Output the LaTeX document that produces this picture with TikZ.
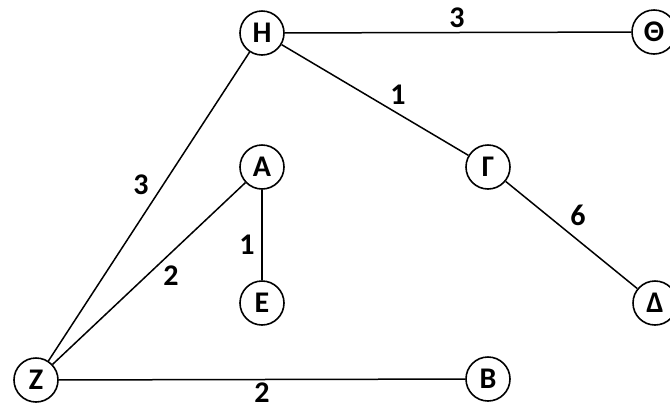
\documentclass[tikz,border=0pt]{standalone}
\usepackage{fontspec}
\setmainfont{Carlito}
\begin{document}
\begin{tikzpicture}[x=1pt,y=-1pt,
  vertex/.style={circle,draw,line width=1.6pt,minimum size=44pt,inner sep=0pt,font=\fontsize{30}{30}\selectfont\bfseries},
  edge/.style={line width=1.5pt},
  wlabel/.style={font=\fontsize{30}{30}\selectfont\bfseries,inner sep=0pt}]
\useasboundingbox (0,0) rectangle (670,408);
\clip (0,0) rectangle (670,408);
\node[vertex] (H) at (262,33) {Η};
\node[vertex] (Th) at (654,32) {Θ};
\node[vertex] (A) at (262,167) {Α};
\node[vertex] (G) at (488,167) {Γ};
\node[vertex] (E) at (262,303) {Ε};
\node[vertex] (D) at (655,303) {Δ};
\node[vertex] (Z) at (36,380) {Ζ};
\node[vertex] (B) at (488,379) {Β};
\draw[edge] (H) -- (Th);
\draw[edge] (H) -- (G);
\draw[edge] (H) -- (Z);
\draw[edge] (A) -- (Z);
\draw[edge] (A) -- (E);
\draw[edge] (G) -- (D);
\draw[edge] (Z) -- (B);
\node[wlabel] (l1) at (457,18) {3};
\node[wlabel] (l2) at (398,95) {1};
\node[wlabel] (l3) at (141,185) {3};
\node[wlabel] (l4) at (171,276) {2};
\node[wlabel] (l5) at (247,245) {1};
\node[wlabel] (l6) at (578,215) {6};
\node[wlabel] (l7) at (262,393) {2};
\end{tikzpicture}
\end{document}
